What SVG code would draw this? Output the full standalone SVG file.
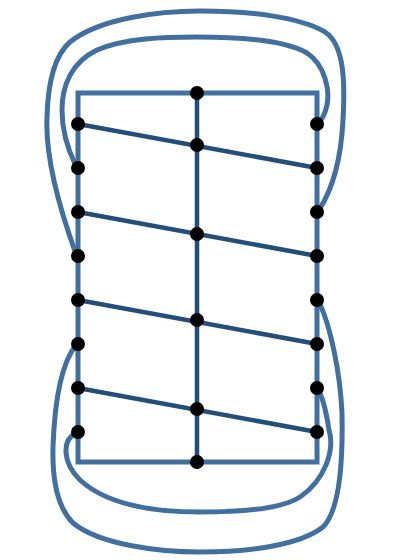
<svg xmlns="http://www.w3.org/2000/svg" width="420" height="560" viewBox="0 0 420 560">
<style>
.frame{fill:none;stroke:#41709f;stroke-width:5}
.curve{fill:none;stroke:#41709f;stroke-width:5;stroke-linecap:round}
.rung{fill:none;stroke:#224e78;stroke-width:4.5}
.dot{fill:#000}
</style>
<rect width="420" height="560" fill="#fff"/>
<g id="connectors">
<rect class="frame" x="78" y="93" width="239" height="369"/>
<line class="rung" x1="197" y1="93" x2="197" y2="462"/>
<line class="rung" x1="78" y1="124" x2="317" y2="168"/>
<line class="rung" x1="78" y1="212" x2="317" y2="256"/>
<line class="rung" x1="78" y1="300" x2="317" y2="344"/>
<line class="rung" x1="78" y1="388" x2="317" y2="432"/>
<path class="curve" d="M76,166 C68,150 62,130 62,110 C62,85 72,62 97,50 C125,38 165,37 197,37 C240,37 285,40 307,53 C325,65 330,90 327,105 C325,115 322,120 317,124"/>
<path class="curve" d="M76,254 C60,210 45,160 47,117 C48,80 55,55 70,42 C100,18 160,11 200,11 C250,11 300,17 325,32 C345,45 345,85 343,120 C341,160 332,190 319,210"/>
<path class="curve" d="M76,433 C62,440 62,462 80,480 C105,503 150,512 200,512 C250,512 285,507 300,497 C325,480 335,450 329,430 C326,410 322,395 317,388"/>
<path class="curve" d="M76,345 C64,360 55,390 53,447 C52,485 60,510 73,523 C100,545 160,552 200,552 C250,552 300,545 323,527 C340,510 343,460 342,413 C340,370 330,325 319,302"/>
</g>
<g id="n-top"><circle class="dot" cx="197" cy="93" r="7"/></g>
<g id="n-bottom"><circle class="dot" cx="197" cy="462" r="7"/></g>
<g id="n-m1"><circle class="dot" cx="197" cy="145" r="7"/></g>
<g id="n-m2"><circle class="dot" cx="197" cy="234" r="7"/></g>
<g id="n-m3"><circle class="dot" cx="197" cy="320" r="7"/></g>
<g id="n-m4"><circle class="dot" cx="197" cy="409" r="7"/></g>
<g id="n-l1"><circle class="dot" cx="78" cy="124" r="7"/></g>
<g id="n-l2"><circle class="dot" cx="78" cy="168" r="7"/></g>
<g id="n-l3"><circle class="dot" cx="78" cy="212" r="7"/></g>
<g id="n-l4"><circle class="dot" cx="78" cy="256" r="7"/></g>
<g id="n-l5"><circle class="dot" cx="78" cy="300" r="7"/></g>
<g id="n-l6"><circle class="dot" cx="78" cy="344" r="7"/></g>
<g id="n-l7"><circle class="dot" cx="78" cy="388" r="7"/></g>
<g id="n-l8"><circle class="dot" cx="78" cy="432" r="7"/></g>
<g id="n-r1"><circle class="dot" cx="317" cy="124" r="7"/></g>
<g id="n-r2"><circle class="dot" cx="317" cy="168" r="7"/></g>
<g id="n-r3"><circle class="dot" cx="317" cy="212" r="7"/></g>
<g id="n-r4"><circle class="dot" cx="317" cy="256" r="7"/></g>
<g id="n-r5"><circle class="dot" cx="317" cy="300" r="7"/></g>
<g id="n-r6"><circle class="dot" cx="317" cy="344" r="7"/></g>
<g id="n-r7"><circle class="dot" cx="317" cy="388" r="7"/></g>
<g id="n-r8"><circle class="dot" cx="317" cy="432" r="7"/></g>
</svg>
